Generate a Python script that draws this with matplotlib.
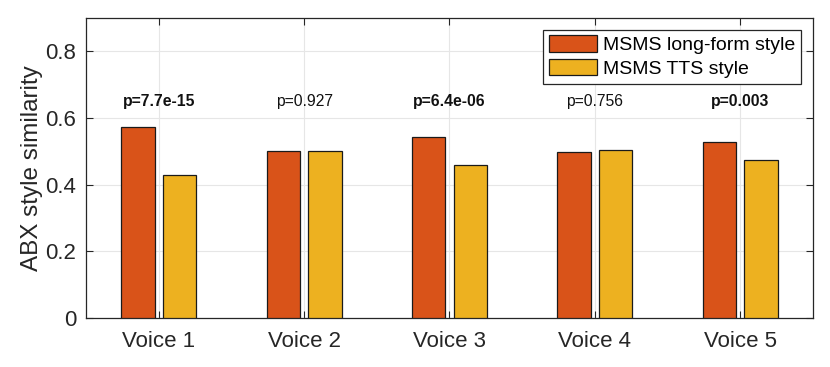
import numpy as np
import matplotlib.pyplot as plt

plt.rcParams['font.family'] = ['Liberation Sans', 'DejaVu Sans']

voices = ["Voice 1", "Voice 2", "Voice 3", "Voice 4", "Voice 5"]
long_form = [0.573, 0.500, 0.543, 0.497, 0.528]
tts_style = [0.430, 0.502, 0.460, 0.503, 0.473]
p_labels = ["p=7.7e-15", "p=0.927", "p=6.4e-06", "p=0.756", "p=0.003"]
significant = [True, False, True, False, True]

fig = plt.figure(figsize=(8.3, 3.67), dpi=100)
ax = fig.add_axes([0.1036, 0.1335, 0.8759, 0.8175])

x = np.arange(1, len(voices) + 1)
w = 0.23
ax.bar(x - 0.143, long_form, w, color='#D95319', edgecolor='#1a1a1a',
       linewidth=0.9, label='MSMS long-form style', zorder=3)
ax.bar(x + 0.143, tts_style, w, color='#EDB120', edgecolor='#1a1a1a',
       linewidth=0.9, label='MSMS TTS style', zorder=3)

for xi, txt, sig in zip(x, p_labels, significant):
    ax.text(xi, 0.65, txt, ha='center', va='center', fontsize=11.3,
            fontweight='bold' if sig else 'normal', color='#111111')

ax.set_xlim(0.5, 5.5)
ax.set_ylim(0, 0.9)
ax.set_xticks(x)
ax.set_xticklabels(voices)
ax.set_yticks([0, 0.2, 0.4, 0.6, 0.8])
ax.set_yticklabels(['0', '0.2', '0.4', '0.6', '0.8'])
ax.set_ylabel('ABX style similarity', fontsize=17.5, color='#262626',
              labelpad=2)

ax.tick_params(direction='in', top=True, right=True, labelsize=16,
               colors='#262626', length=5)
ax.tick_params(axis='x', pad=9)
ax.tick_params(axis='y', pad=7)
ax.grid(True, color='#e6e6e6', linewidth=0.8, zorder=0)
for s in ax.spines.values():
    s.set_color('#262626')
    s.set_linewidth(0.9)

leg = ax.legend(loc='upper right', fontsize=14, fancybox=False,
                edgecolor='#262626', framealpha=1, handlelength=2.5,
                handleheight=0.9, borderpad=0.3, labelspacing=0.25,
                handletextpad=0.3, borderaxespad=0.6)
leg.get_frame().set_linewidth(0.9)

plt.savefig('out.png', dpi=100)
